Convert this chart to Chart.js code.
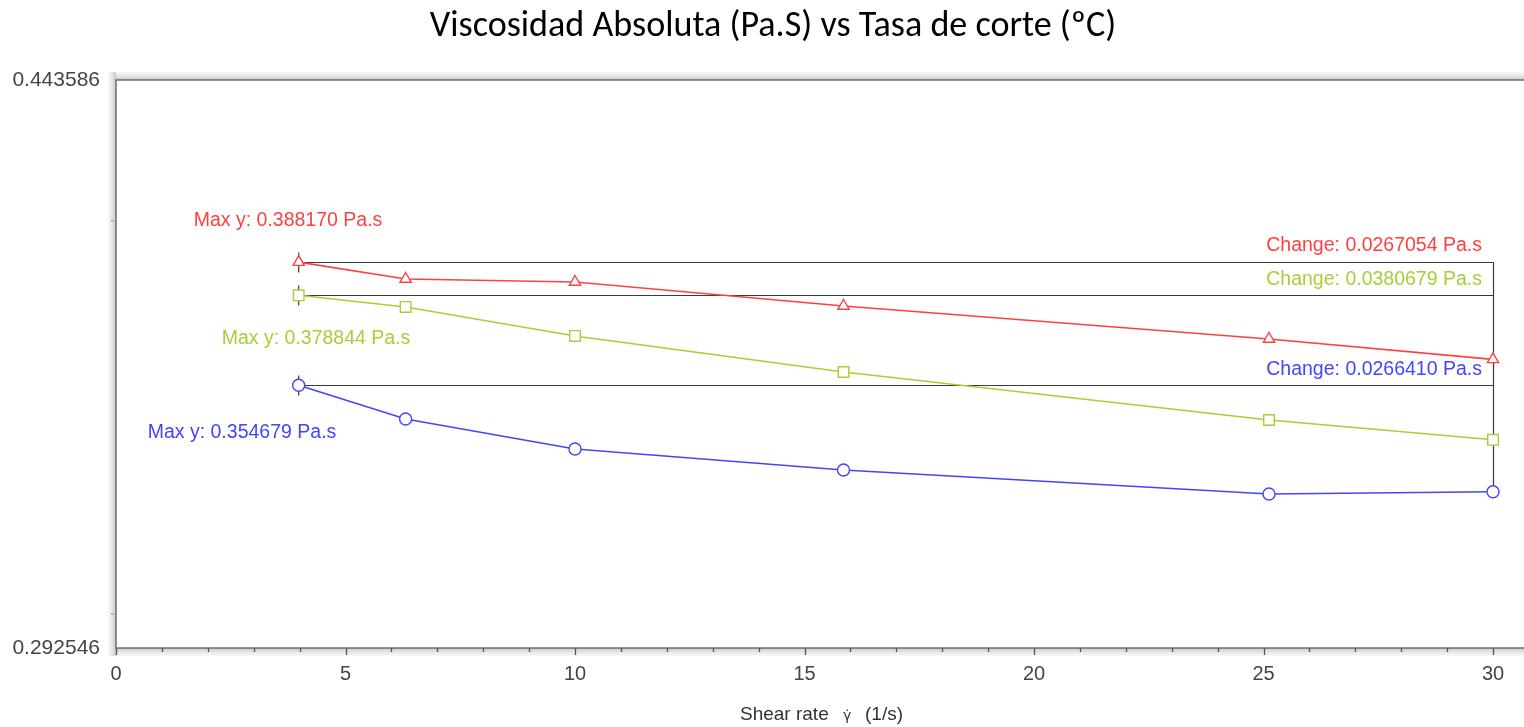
<!DOCTYPE html>
<html>
<head>
<meta charset="utf-8">
<script src="https://cdn.jsdelivr.net/npm/chart.js"></script>
<style>
  body { margin: 0; background: #fff; }
  #wrap { width: 1524px; height: 727px; }
</style>
</head>
<body>
<div id="wrap"><canvas id="viscChart" width="1524" height="727"></canvas></div>
<script>
// values
var shearRate = [3.98, 6.31, 10.0, 15.85, 25.12, 30.0];
var viscRed = [0.388170, 0.38339, 0.38255, 0.37588, 0.36690, 0.361465];
var viscGreen = [0.378844, 0.37561, 0.36771, 0.35813, 0.34575, 0.340776];
var viscBlue = [0.354679, 0.34600, 0.33848, 0.33331, 0.32750, 0.328038];

var yLimits = [0.292546, 0.443586];
var yMinorTicks = [0.3, 0.4];
var xTickLabels = [0, 5, 10, 15, 20, 25, 30];

var maxLabels = ["Max y: 0.388170 Pa.s", "Max y: 0.378844 Pa.s", "Max y: 0.354679 Pa.s"];
var changeLabels = ["Change: 0.0267054 Pa.s", "Change: 0.0380679 Pa.s", "Change: 0.0266410 Pa.s"];

var colRed = "#ff4040", colGreen = "#a6cf3a", colBlue = "#4444ff";
// where the "Max y" text sits relative to the first point (px)
var maxLabelOffset = [[-105, -41], [-77, 43], [-151, 47]];

function pts(ys) {
  var out = [];
  for (var i = 0; i < shearRate.length; i++) out.push({x: shearRate[i], y: ys[i]});
  return out;
}

var extras = {
  id: "extras",
  beforeDatasetsDraw: function(chart) {
    var ctx = chart.ctx, xs = chart.scales.x, ys = chart.scales.y;
    var x0 = xs.getPixelForValue(shearRate[0]);
    var x1 = xs.getPixelForValue(shearRate[shearRate.length - 1]);
    var series = [viscRed, viscGreen, viscBlue];
    ctx.save();
    ctx.strokeStyle = "#3a3a3a";
    ctx.lineWidth = 1.2;
    var lowest = Infinity;
    for (var i = 0; i < series.length; i++) {
      var y = Math.round(ys.getPixelForValue(series[i][0])) + 0.5;
      ctx.beginPath();
      ctx.moveTo(x0, y); ctx.lineTo(x1, y);
      ctx.moveTo(x0, y - 10); ctx.lineTo(x0, y + 10);
      ctx.stroke();
      lowest = Math.min(lowest, series[i][series[i].length - 1]);
    }
    ctx.beginPath();
    ctx.moveTo(Math.round(x1) + 0.5, ys.getPixelForValue(viscRed[0]));
    ctx.lineTo(Math.round(x1) + 0.5, ys.getPixelForValue(lowest));
    ctx.stroke();
    ctx.restore();
  },
  afterDraw: function(chart) {
    var ctx = chart.ctx, a = chart.chartArea, xs = chart.scales.x, ys = chart.scales.y;
    ctx.save();

    // title
    ctx.fillStyle = "#000";
    ctx.font = "29px Carlito, Lato, sans-serif";
    ctx.textAlign = "center";
    ctx.textBaseline = "alphabetic";
    var title = "Viscosidad Absoluta (Pa.S) vs Tasa de corte (\u00baC)";
    var w = ctx.measureText(title).width;
    var size = 29 * 687 / w;
    ctx.font = size.toFixed(1) + "px Carlito, Lato, sans-serif";
    ctx.fillText(title, 773, 36);

    // frame shadows
    var g = ctx.createLinearGradient(a.left - 8, 0, a.left, 0);
    g.addColorStop(0, "rgba(230,230,230,0.3)"); g.addColorStop(1, "rgba(200,200,200,1)");
    ctx.fillStyle = g;
    ctx.fillRect(a.left - 8, a.top - 8, 8, a.bottom - a.top + 16);
    g = ctx.createLinearGradient(0, a.top - 8, 0, a.top);
    g.addColorStop(0, "rgba(230,230,230,0.3)"); g.addColorStop(1, "rgba(200,200,200,1)");
    ctx.fillStyle = g;
    ctx.fillRect(a.left, a.top - 8, a.right - a.left, 8);
    g = ctx.createLinearGradient(0, a.bottom, 0, a.bottom + 8);
    g.addColorStop(0, "rgba(200,200,200,1)"); g.addColorStop(1, "rgba(230,230,230,0.3)");
    ctx.fillStyle = g;
    ctx.fillRect(a.left, a.bottom, a.right - a.left, 8);

    // frame lines
    ctx.strokeStyle = "#6e6e6e";
    ctx.lineWidth = 1.5;
    ctx.beginPath();
    ctx.moveTo(a.right, a.top); ctx.lineTo(a.left, a.top);
    ctx.lineTo(a.left, a.bottom); ctx.lineTo(a.right, a.bottom);
    ctx.stroke();

    // x tick marks
    ctx.strokeStyle = "#555";
    ctx.lineWidth = 1.3;
    xs.ticks.forEach(function(t) {
      var px = Math.round(xs.getPixelForValue(t.value)) + 0.5;
      var len = (t.value % 5 === 0) ? 7 : 4;
      ctx.beginPath();
      ctx.moveTo(px, a.bottom); ctx.lineTo(px, a.bottom + len);
      ctx.stroke();
    });

    // x axis title
    ctx.fillStyle = "#333";
    ctx.textAlign = "left";
    ctx.font = "19px 'Liberation Sans', Arial, sans-serif";
    ctx.fillText("Shear rate", 740, 720);
    ctx.font = "14px 'DejaVu Sans', sans-serif";
    ctx.fillText("\u03b3\u0307", 843, 720);
    ctx.font = "19px 'Liberation Sans', Arial, sans-serif";
    ctx.fillText("(1/s)", 865, 720);

    // annotations
    var series = [viscRed, viscGreen, viscBlue];
    var cols = [colRed, colGreen, colBlue];
    var x0 = xs.getPixelForValue(shearRate[0]);
    var x1 = xs.getPixelForValue(shearRate[shearRate.length - 1]);
    ctx.font = "19.5px 'Liberation Sans', Arial, sans-serif";
    ctx.textBaseline = "middle";
    for (var i = 0; i < series.length; i++) {
      var y = ys.getPixelForValue(series[i][0]);
      ctx.fillStyle = cols[i];
      ctx.textAlign = "left";
      ctx.fillText(maxLabels[i], x0 + maxLabelOffset[i][0], y + maxLabelOffset[i][1]);
      ctx.textAlign = "right";
      ctx.fillText(changeLabels[i], x1 - 11, y - 16);
    }
    ctx.restore();
  }
};

new Chart(document.getElementById("viscChart"), {
  type: "scatter",
  data: {
    datasets: [
      { data: pts(viscRed), showLine: true, borderColor: colRed, borderWidth: 1.6,
        pointStyle: "triangle", pointRadius: 6.5, pointBorderColor: colRed,
        pointBackgroundColor: "#fff", pointBorderWidth: 1.4 },
      { data: pts(viscGreen), showLine: true, borderColor: colGreen, borderWidth: 1.6,
        pointStyle: "rect", pointRadius: 7.5, pointBorderColor: colGreen,
        pointBackgroundColor: "#fff", pointBorderWidth: 1.4 },
      { data: pts(viscBlue), showLine: true, borderColor: colBlue, borderWidth: 1.6,
        pointStyle: "circle", pointRadius: 6, pointBorderColor: colBlue,
        pointBackgroundColor: "#fff", pointBorderWidth: 1.4 }
    ]
  },
  options: {
    responsive: false,
    animation: false,
    layout: { autoPadding: false, padding: { top: 80, left: 0, right: 0, bottom: 0 } },
    plugins: { legend: { display: false }, tooltip: { enabled: false }, title: { display: false } },
    scales: {
      x: {
        type: "linear",
        min: 0,
        max: 30 * 1408 / 1377,
        afterBuildTicks: function(scale) {
          var t = [];
          for (var v = 0; v <= 30; v++) t.push({value: v});
          scale.ticks = t;
        },
        afterFit: function(scale) {
          scale.height = 79;
          scale.paddingLeft = 0;
          scale.paddingRight = 0;
        },
        border: { display: false },
        grid: { display: false },
        ticks: {
          autoSkip: false,
          maxRotation: 0,
          padding: 6,
          color: "#444",
          font: { family: "'Liberation Sans', Arial, sans-serif", size: 20 },
          callback: function(v) { return xTickLabels.indexOf(v) >= 0 ? String(v) : ""; }
        }
      },
      y: {
        type: "logarithmic",
        min: yLimits[0],
        max: yLimits[1],
        afterBuildTicks: function(scale) {
          scale.ticks = [yLimits[0]].concat(yMinorTicks, [yLimits[1]]).map(function(v) { return {value: v}; });
        },
        afterFit: function(scale) { scale.width = 116; },
        border: { display: false },
        grid: {
          drawOnChartArea: false,
          drawTicks: true,
          tickLength: 5,
          lineWidth: 2,
          color: function(c) { return yMinorTicks.indexOf(c.tick.value) >= 0 ? "#888" : "rgba(0,0,0,0)"; }
        },
        ticks: {
          autoSkip: false,
          padding: 11,
          color: "#444",
          font: { family: "'Liberation Sans', Arial, sans-serif", size: 21 },
          callback: function(v) { return yLimits.indexOf(v) >= 0 ? v.toFixed(6) : ""; }
        }
      }
    }
  },
  plugins: [extras]
});
</script>
</body>
</html>
